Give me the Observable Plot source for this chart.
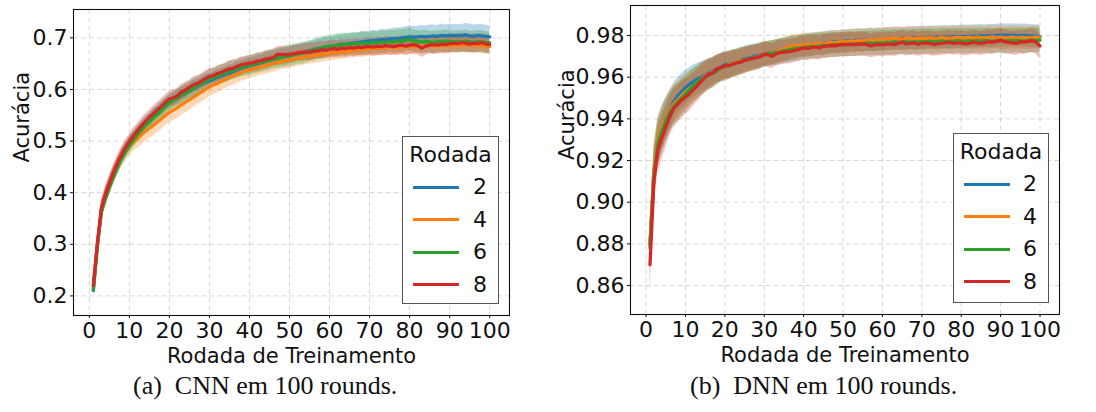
<!DOCTYPE html>
<html>
<head>
<meta charset="utf-8">
<script src="https://cdn.jsdelivr.net/npm/d3@7"></script>
<script src="https://cdn.jsdelivr.net/npm/@observablehq/plot@0.6"></script>
<style>
  html, body { margin: 0; padding: 0; background: #fff; }
  #root { position: relative; width: 1096px; height: 412px; overflow: hidden; background: #fff; font-family: "DejaVu Sans", sans-serif; }
  .panel { position: absolute; top: 0; }
  .legend { position: absolute; background: rgba(255,255,255,0.9); border: 1px solid #555; box-sizing: border-box; }
  .legend .title { position: absolute; left: 0; right: 0; text-align: center; font-size: 22px; line-height: 22px; color: #111; }
  .legend .sw { position: absolute; height: 3px; }
  .legend .lab { position: absolute; width: 24px; text-align: center; font-size: 22px; line-height: 22px; color: #111; }
  .caption { position: absolute; font-family: "Liberation Serif", "Times New Roman", serif; font-size: 26px; line-height: 26px; color: #111; white-space: nowrap; }
</style>
</head>
<body>
<div id="root"></div>
<script>
// ---------------- data ----------------
const rounds = d3.range(1, 101);
const seriesNames = ["2", "4", "6", "8"];
const seriesColors = ["#1f77b4", "#ff7f0e", "#2ca02c", "#d62728"];
const xTicks = [0, 10, 20, 30, 40, 50, 60, 70, 80, 90, 100];
const cnnYTicks = [0.2, 0.3, 0.4, 0.5, 0.6, 0.7];
const dnnYTicks = [0.86, 0.88, 0.90, 0.92, 0.94, 0.96, 0.98];
const xLabel = "Rodada de Treinamento";
const yLabel = "Acurácia";
const legendTitle = "Rodada";
const captions = ["(a)", "CNN em 100 rounds.", "(b)", "DNN em 100 rounds."];

// CNN mean accuracy per training round (rounds 1..100)
const cnnMean2 = [.210,.300,.365,.392,.415,.435,.453,.469,.483,.495,
.505,.515,.523,.532,.540,.548,.555,.562,.569,.575,
.580,.584,.589,.593,.597,.602,.606,.610,.614,.617,
.620,.624,.626,.629,.632,.635,.639,.641,.644,.646,
.648,.650,.652,.655,.657,.659,.661,.663,.664,.666,
.668,.670,.671,.673,.675,.677,.679,.680,.682,.683,
.684,.686,.687,.688,.689,.690,.691,.692,.693,.694,
.695,.695,.697,.696,.698,.699,.698,.700,.701,.702,
.701,.702,.703,.702,.703,.704,.703,.705,.704,.705,
.704,.705,.704,.706,.704,.703,.705,.704,.703,.702];
const cnnMean4 = [.218,.298,.365,.390,.412,.432,.450,.466,.478,.490,
.498,.505,.512,.519,.525,.531,.537,.543,.550,.556,
.560,.565,.570,.575,.580,.585,.590,.595,.600,.605,
.609,.612,.616,.620,.624,.627,.630,.633,.636,.638,
.640,.642,.644,.646,.648,.650,.652,.654,.655,.657,
.659,.660,.662,.663,.664,.666,.667,.668,.669,.670,
.671,.672,.673,.674,.675,.676,.677,.677,.678,.679,
.679,.680,.680,.681,.681,.682,.681,.682,.683,.683,
.684,.683,.684,.684,.685,.684,.685,.685,.686,.685,
.686,.685,.686,.686,.687,.686,.685,.686,.684,.683];
const cnnMean6 = [.212,.295,.362,.388,.410,.430,.448,.465,.479,.491,
.502,.512,.521,.530,.537,.545,.552,.559,.567,.575,
.580,.584,.589,.594,.598,.603,.607,.611,.616,.620,
.623,.626,.629,.632,.636,.638,.640,.643,.645,.647,
.649,.651,.653,.655,.657,.659,.660,.662,.664,.665,
.667,.669,.670,.672,.674,.676,.679,.680,.682,.684,
.685,.686,.688,.687,.688,.689,.688,.690,.689,.690,
.691,.690,.692,.691,.693,.692,.694,.693,.695,.697,
.694,.693,.692,.693,.692,.691,.693,.692,.694,.693,
.692,.693,.692,.694,.692,.691,.693,.692,.691,.691];
const cnnMean8 = [.220,.300,.370,.396,.418,.439,.457,.473,.487,.499,
.510,.520,.529,.538,.546,.553,.561,.567,.575,.582,
.584,.588,.595,.599,.604,.609,.612,.616,.621,.625,
.627,.631,.633,.637,.640,.641,.645,.648,.649,.651,
.652,.655,.656,.659,.660,.662,.668,.668,.667,.668,
.669,.671,.672,.673,.672,.674,.675,.677,.676,.678,
.679,.678,.680,.679,.681,.680,.682,.681,.683,.683,
.682,.684,.683,.685,.684,.683,.685,.686,.684,.686,
.687,.685,.680,.684,.686,.687,.686,.688,.687,.689,
.690,.689,.691,.690,.688,.690,.689,.691,.688,.687];

// CNN spread (half band width, thousandths)
const cnnSpread2 = [5,12,16,16,15,15,14,14,14,14,
14,14,14,15,14,15,14,15,14,14,
14,15,15,14,14,15,14,14,15,14,
14,15,14,15,15,14,15,15,15,15,
15,16,15,16,16,15,16,16,17,16,
17,16,17,17,18,17,18,18,19,18,
18,19,18,19,19,18,19,20,19,19,
20,19,20,20,19,20,21,20,20,21,
21,20,21,21,22,21,21,22,21,22,
22,21,22,22,23,22,21,22,22,21];
const cnnSpread4 = [7,14,18,18,17,17,17,17,18,18,
18,19,20,20,20,21,21,21,20,21,
20,21,20,20,21,20,19,20,19,19,
19,18,19,18,18,19,18,17,18,17,
17,17,16,17,16,17,16,16,15,16,
16,15,16,15,15,16,15,15,15,14,
15,14,15,14,15,14,14,15,14,14,
15,14,14,15,14,14,15,14,15,14,
15,14,15,15,14,15,15,14,15,15,
15,15,14,15,15,14,15,15,15,14];
const cnnSpread6 = [6,12,16,16,16,15,15,15,15,15,
15,15,16,15,16,16,16,16,17,16,
17,16,17,17,17,18,17,18,17,18,
18,18,19,18,19,19,18,19,19,20,
19,20,19,20,20,19,20,20,21,20,
21,20,21,21,20,21,21,22,21,21,
21,22,21,22,21,22,21,22,22,21,
22,21,22,22,21,22,22,23,22,21,
22,21,22,22,21,22,21,22,22,21,
21,22,21,22,21,22,21,22,21,21];
const cnnSpread8 = [6,13,17,17,16,16,15,15,15,14,
15,14,15,14,14,15,14,15,15,14,
15,14,15,15,14,15,15,14,15,15,
14,15,15,14,15,15,14,15,14,15,
15,15,14,15,15,16,15,16,15,16,
16,15,16,16,17,16,16,17,16,17,
17,16,17,17,16,17,17,16,17,17,
17,18,17,17,18,17,18,17,18,18,
18,17,18,18,17,18,18,17,18,18,
18,17,18,18,17,18,18,17,18,18];

// DNN mean accuracy per training round (rounds 1..100)
const dnnMean2 = [.8800,.9140,.9290,.9350,.9400,.9440,.9480,.9510,.9530,.9550,
.9565,.9580,.9590,.9600,.9610,.9620,.9630,.9640,.9648,.9660,
.9662,.9668,.9672,.9680,.9688,.9692,.9698,.9702,.9706,.9710,
.9715,.9718,.9722,.9728,.9730,.9735,.9740,.9742,.9748,.9750,
.9752,.9755,.9758,.9760,.9762,.9765,.9768,.9770,.9768,.9772,
.9774,.9775,.9777,.9778,.9776,.9779,.9780,.9778,.9781,.9780,
.9782,.9784,.9783,.9785,.9786,.9784,.9787,.9788,.9786,.9790,
.9789,.9791,.9790,.9792,.9791,.9793,.9792,.9794,.9793,.9795,
.9796,.9794,.9797,.9796,.9798,.9797,.9799,.9798,.9800,.9802,
.9801,.9800,.9802,.9799,.9800,.9801,.9799,.9798,.9797,.9795];
const dnnMean4 = [.8800,.9160,.9300,.9360,.9400,.9440,.9470,.9490,.9510,.9530,
.9545,.9560,.9575,.9590,.9605,.9615,.9625,.9635,.9645,.9650,
.9660,.9665,.9672,.9678,.9682,.9688,.9692,.9698,.9702,.9710,
.9712,.9718,.9722,.9728,.9735,.9742,.9748,.9750,.9752,.9755,
.9758,.9754,.9760,.9762,.9758,.9765,.9768,.9766,.9770,.9772,
.9768,.9774,.9772,.9776,.9774,.9778,.9780,.9777,.9782,.9780,
.9784,.9782,.9786,.9785,.9782,.9786,.9788,.9784,.9786,.9788,
.9786,.9789,.9787,.9786,.9790,.9788,.9786,.9789,.9791,.9790,
.9788,.9791,.9789,.9792,.9790,.9788,.9791,.9793,.9790,.9792,
.9788,.9790,.9792,.9789,.9791,.9790,.9788,.9790,.9792,.9790];
const dnnMean6 = [.8780,.9130,.9280,.9340,.9390,.9430,.9460,.9480,.9500,.9520,
.9540,.9560,.9575,.9590,.9600,.9610,.9620,.9630,.9645,.9650,
.9655,.9662,.9668,.9675,.9680,.9688,.9692,.9695,.9702,.9708,
.9712,.9715,.9718,.9722,.9728,.9730,.9735,.9738,.9740,.9742,
.9745,.9748,.9746,.9750,.9752,.9750,.9754,.9756,.9755,.9757,
.9758,.9760,.9758,.9762,.9760,.9763,.9762,.9765,.9763,.9765,
.9766,.9764,.9768,.9766,.9768,.9770,.9767,.9770,.9768,.9771,
.9770,.9772,.9769,.9772,.9774,.9771,.9773,.9772,.9775,.9773,
.9772,.9774,.9773,.9776,.9772,.9775,.9774,.9772,.9776,.9774,
.9773,.9776,.9774,.9777,.9775,.9773,.9776,.9778,.9777,.9778];
const dnnMean8 = [.8700,.9105,.9250,.9310,.9360,.9410,.9450,.9470,.9490,.9505,
.9520,.9540,.9560,.9580,.9600,.9615,.9620,.9640,.9645,.9655,
.9655,.9662,.9668,.9672,.9680,.9685,.9690,.9695,.9698,.9710,
.9708,.9700,.9712,.9718,.9720,.9722,.9725,.9730,.9735,.9740,
.9738,.9742,.9745,.9740,.9748,.9750,.9752,.9750,.9755,.9757,
.9755,.9758,.9756,.9758,.9760,.9757,.9750,.9755,.9758,.9755,
.9758,.9760,.9756,.9762,.9768,.9760,.9762,.9765,.9758,.9763,
.9765,.9762,.9758,.9760,.9763,.9765,.9768,.9762,.9765,.9765,
.9760,.9762,.9768,.9765,.9762,.9766,.9770,.9768,.9772,.9778,
.9770,.9768,.9765,.9762,.9770,.9768,.9772,.9775,.9768,.9750];

// DNN spread (half band width, ten-thousandths)
const dnnSpread2 = [80,120,110,105,100,95,90,88,85,82,
80,78,76,74,72,70,68,67,66,65,
64,63,62,62,61,60,60,59,59,58,
58,57,58,57,56,57,56,56,55,56,
55,56,55,55,56,55,54,55,54,55,
55,54,55,54,55,54,55,55,54,55,
55,54,55,55,54,55,54,55,55,54,
55,54,55,54,55,55,54,55,54,55,
54,55,55,54,55,54,55,55,54,55,
54,55,54,55,55,54,55,54,55,54];
const dnnSpread4 = [100,120,112,106,100,96,92,89,86,84,
82,80,78,76,74,72,70,69,68,67,
66,65,64,63,62,62,61,60,60,59,
59,58,58,57,57,56,56,56,55,55,
55,56,55,55,56,55,55,56,55,55,
56,55,55,56,55,55,56,55,55,56,
55,55,56,55,55,56,55,55,56,55,
55,56,55,55,56,55,55,56,55,55,
56,55,55,56,55,55,56,55,55,56,
55,55,56,55,55,56,55,55,56,55];
const dnnSpread6 = [90,115,110,105,100,96,92,90,88,86,
84,82,80,78,76,74,72,70,69,68,
67,66,65,64,64,63,63,62,62,61,
61,60,61,60,60,61,60,60,59,60,
60,59,60,60,59,60,60,59,60,59,
60,59,60,59,60,60,59,60,59,60,
59,60,60,59,60,59,60,60,59,60,
60,59,60,59,60,60,59,60,59,60,
59,60,60,59,60,59,60,60,59,60,
60,59,60,59,60,60,59,60,59,60];
const dnnSpread8 = [130,115,110,105,100,96,92,90,88,85,
82,80,78,76,74,72,70,68,67,66,
65,64,63,62,62,61,60,60,59,60,
59,60,58,59,58,59,58,57,58,57,
58,57,58,57,58,57,58,58,57,58,
57,58,57,58,57,58,57,58,57,58,
58,57,58,57,58,58,57,58,57,58,
57,58,58,57,58,57,58,57,58,57,
58,57,58,58,57,58,57,58,57,58,
57,58,57,58,57,58,57,58,58,60];

// ---------------- build tables ----------------
function buildRows(means, spreads, unit) {
  const out = [];
  seriesNames.forEach((s, i) => {
    means[i].forEach((m, j) => {
      const h = spreads[i][j] / unit;
      out.push({series: s, round: rounds[j], mean: m, lo: m - h, hi: m + h});
    });
  });
  return out;
}
const cnnRows = buildRows([cnnMean2, cnnMean4, cnnMean6, cnnMean8], [cnnSpread2, cnnSpread4, cnnSpread6, cnnSpread8], 1000);
const dnnRows = buildRows([dnnMean2, dnnMean4, dnnMean6, dnnMean8], [dnnSpread2, dnnSpread4, dnnSpread6, dnnSpread8], 10000);

const FONT = "DejaVu Sans";
const gridStyle = {stroke: "#c8c8c8", strokeOpacity: 0.7, strokeWidth: 1, strokeDasharray: "5,3"};

function panel({rows, yDomain, yTicks, yFmt, width, mLeft, mRight, mTop, mBottom, yLabelDx}) {
  return Plot.plot({
    width, height: 370,
    marginLeft: mLeft, marginRight: mRight, marginTop: mTop, marginBottom: mBottom,
    style: {fontFamily: FONT, fontSize: "22px", color: "#111", background: "transparent", overflow: "visible"},
    x: {domain: [-3.95, 104.95]},
    y: {domain: yDomain},
    color: {domain: seriesNames, range: seriesColors},
    marks: [
      Plot.gridX(xTicks, gridStyle),
      Plot.gridY(yTicks, gridStyle),
      Plot.areaY(rows, {x: "round", y1: "lo", y2: "hi", z: "series", fill: "series", fillOpacity: 0.3}),
      Plot.lineY(rows, {x: "round", y: "mean", z: "series", stroke: "series", strokeWidth: 3.3, strokeLinejoin: "round"}),
      Plot.frame({stroke: "#111", strokeWidth: 1.1}),
      Plot.axisX(xTicks, {label: null, tickSize: 3, tickPadding: 4, fontSize: 22, tickFormat: d3.format("d")}),
      Plot.axisY(yTicks, {label: null, tickSize: 3, tickPadding: 3, fontSize: 22, tickFormat: d3.format(yFmt)}),
      Plot.text([xLabel], {frameAnchor: "bottom", dy: 41, fontSize: 21, lineAnchor: "middle", fill: "#111"}),
      Plot.text([yLabel], {frameAnchor: "left", rotate: -90, dx: yLabelDx, fontSize: 21, lineAnchor: "middle", fill: "#111"})
    ]
  });
}

const root = document.getElementById("root");

const left = panel({rows: cnnRows, yDomain: [0.162, 0.755], yTicks: cnnYTicks, yFmt: ".1f",
  width: 540, mLeft: 73, mRight: 31, mTop: 9, mBottom: 55, yLabelDx: -51});
left.classList.add("panel"); left.style.left = "0px";
root.appendChild(left);

const right = panel({rows: dnnRows, yDomain: [0.8461, 0.9944], yTicks: dnnYTicks, yFmt: ".2f",
  width: 556, mLeft: 90, mRight: 37, mTop: 5, mBottom: 56, yLabelDx: -63});
right.classList.add("panel"); right.style.left = "540px";
root.appendChild(right);

function legend(x, y, w, h) {
  const box = document.createElement("div");
  box.className = "legend";
  Object.assign(box.style, {left: x + "px", top: y + "px", width: w + "px", height: h + "px"});
  const t = document.createElement("div");
  t.className = "title"; t.textContent = legendTitle; t.style.top = "7px";
  box.appendChild(t);
  const rowsY = [50, 82.7, 115.2, 147.6];
  seriesNames.forEach((s, i) => {
    const sw = document.createElement("div");
    sw.className = "sw";
    Object.assign(sw.style, {left: "10px", width: "46px", top: (rowsY[i] - 1.5) + "px", background: seriesColors[i]});
    box.appendChild(sw);
    const lb = document.createElement("div");
    lb.className = "lab"; lb.textContent = s;
    Object.assign(lb.style, {left: (w - 32) + "px", top: (rowsY[i] - 11) + "px"});
    box.appendChild(lb);
  });
  root.appendChild(box);
}
legend(402, 136, 97, 168);
legend(953, 133, 96, 170);

function caption(tag, text, x, y) {
  const c = document.createElement("div");
  c.className = "caption";
  Object.assign(c.style, {left: x + "px", top: y + "px"});
  const a = document.createElement("span"); a.textContent = tag;
  const b = document.createElement("span"); b.textContent = text; b.style.marginLeft = "13px";
  c.appendChild(a); c.appendChild(b);
  root.appendChild(c);
}
caption(captions[0], captions[1], 133, 373);
caption(captions[2], captions[3], 690, 373);
</script>
</body>
</html>
